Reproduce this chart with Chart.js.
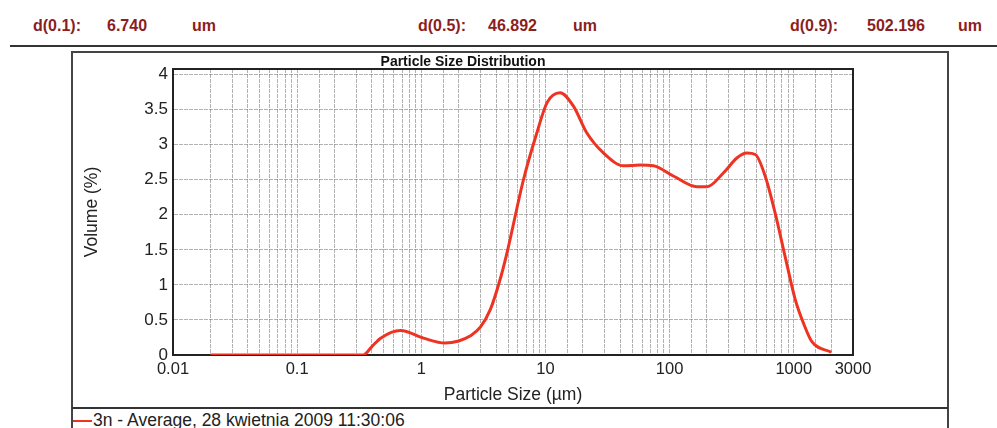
<!DOCTYPE html>
<html lang="pl">
<head>
    <meta charset="UTF-8">
    <title>Particle Size Distribution</title>
    <style>
        body {
            margin: 0;
            background: #fff;
            font-family: Arial, "Liberation Sans", sans-serif;
        }
        .page {
            position: relative;
            width: 997px;
            height: 428px;
            overflow: hidden;
        }
        .hd {
            position: absolute;
            top: 18px;
            font-size: 16px;
            line-height: 16px;
            font-weight: bold;
            color: #8b1e1e;
            white-space: nowrap;
        }
        .rule {
            position: absolute;
            left: 10px;
            top: 45px;
            width: 987px;
            height: 2px;
            background: #333;
        }
        .frame {
            position: absolute;
            left: 71px;
            top: 51px;
            width: 878px;
            height: 420px;
            box-sizing: border-box;
            border: 2px solid #444;
        }
        .sep {
            position: absolute;
            left: 72px;
            top: 407px;
            width: 876px;
            height: 2px;
            background: #333;
        }
        #chart {
            position: absolute;
            left: 73px;
            top: 53px;
        }
        .legend {
            position: absolute;
            left: 73px;
            top: 411px;
            font-size: 17.5px;
            line-height: 18px;
            color: #222;
            white-space: nowrap;
        }
        .legend i {
            display: inline-block;
            width: 19px;
            height: 2px;
            margin-right: 1px;
            vertical-align: 4px;
        }
    </style>
</head>
<body>
<div class="page">
    <span class="hd" style="left:33px">d(0.1):</span>
    <span class="hd" style="left:107px">6.740</span>
    <span class="hd" style="left:192px">um</span>
    <span class="hd" style="left:418px">d(0.5):</span>
    <span class="hd" style="left:488px">46.892</span>
    <span class="hd" style="left:573px">um</span>
    <span class="hd" style="left:790px">d(0.9):</span>
    <span class="hd" style="left:867px">502.196</span>
    <span class="hd" style="left:958px">um</span>
    <div class="rule"></div>
    <div class="frame"></div>
    <canvas id="chart" width="874" height="355"></canvas>
    <div class="sep"></div>
    <div class="legend" id="legend"></div>
</div>

<script src="https://cdn.jsdelivr.net/npm/chart.js@4"></script>
<script>
    // particle size (um) and volume (%)
    const sizes = [0.02, 0.1, 0.34, 0.4, 0.47, 0.68, 1.04, 1.56, 2.0, 2.47, 3.0, 3.6, 4.3, 4.89,
        6.65, 8.53, 10.3, 13.1, 16.8, 21.5, 29.4, 42.6, 58, 74, 108, 166, 200, 272, 348, 419,
        490, 589, 709, 853, 1028, 1200, 1400, 2000];
    const volume = [0, 0, 0, 0.12, 0.24, 0.35, 0.24, 0.17, 0.2, 0.27, 0.4, 0.65, 1.07, 1.45,
        2.5, 3.17, 3.6, 3.74, 3.55, 3.17, 2.88, 2.7, 2.71, 2.7, 2.55, 2.4, 2.4, 2.6, 2.81, 2.88,
        2.86, 2.55, 2.02, 1.4, 0.79, 0.45, 0.19, 0.04];
    const seriesName = '3n - Average, 28 kwietnia 2009 11:30:06';

    const xTickValues = [0.01, 0.1, 1, 10, 100, 1000, 3000];
    const xTickLabels = ['0.01', '0.1', '1', '10', '100', '1000', '3000'];
    const yTickValues = [0, 0.5, 1, 1.5, 2, 2.5, 3, 3.5, 4];
    const yTickLabels = ['0', '0.5', '1', '1.5', '2', '2.5', '3', '3.5', '4'];

    const lineColor = '#ee3322';
    const gridColor = 'rgba(115,115,115,0.55)';

    Chart.defaults.font.family = 'Arial, "Liberation Sans", sans-serif';
    Chart.defaults.color = '#222';

    // top and right edges of the plot box
    const plotFrame = {
        id: 'plotFrame',
        beforeDatasetsDraw(chart) {
            const a = chart.chartArea;
            const ctx = chart.ctx;
            ctx.save();
            ctx.strokeStyle = '#222';
            ctx.lineWidth = 2;
            ctx.strokeRect(a.left, a.top, a.right - a.left, a.bottom - a.top);
            ctx.restore();
        }
    };

    const chart = new Chart(document.getElementById('chart'), {
        type: 'line',
        data: {
            datasets: [{
                label: seriesName,
                data: sizes.map((s, i) => ({ x: s, y: volume[i] })),
                borderColor: lineColor,
                backgroundColor: lineColor,
                borderWidth: 3,
                pointRadius: 0,
                cubicInterpolationMode: 'monotone',
                fill: false
            }]
        },
        options: {
            responsive: false,
            animation: false,
            layout: { padding: { left: 0, right: 94, top: 0, bottom: 0 } },
            plugins: {
                legend: { display: false },
                tooltip: { enabled: false },
                title: {
                    display: true,
                    text: 'Particle Size Distribution',
                    color: '#111',
                    font: { size: 14, weight: 'bold', lineHeight: 1 },
                    padding: { top: 2, bottom: 0 }
                }
            },
            scales: {
                x: {
                    type: 'logarithmic',
                    min: 0.01,
                    max: 3000,
                    afterFit(scale) { scale.height = 53; },
                    border: { display: true, color: '#222', width: 2, dash: [4, 1] },
                    grid: { color: gridColor, lineWidth: 1, drawTicks: false },
                    ticks: {
                        autoSkip: false,
                        maxRotation: 0,
                        padding: 5,
                        font: { size: 16.5 },
                        callback(value) {
                            const i = xTickValues.findIndex(t => Math.abs(value - t) / t < 1e-6);
                            return i >= 0 ? xTickLabels[i] : '';
                        }
                    },
                    title: {
                        display: true,
                        text: 'Particle Size (µm)',
                        font: { size: 17.5 },
                        padding: { top: 0, bottom: 2.5 }
                    }
                },
                y: {
                    min: 0,
                    max: 4.08,
                    afterFit(scale) { scale.width = 100; },
                    afterBuildTicks(scale) {
                        scale.ticks = yTickValues.map(v => ({ value: v }));
                    },
                    border: { display: true, color: '#222', width: 2, dash: [4, 1] },
                    grid: { color: gridColor, lineWidth: 1, drawTicks: false },
                    ticks: {
                        padding: 5,
                        font: { size: 17 },
                        callback(value, index) {
                            return yTickLabels[index];
                        }
                    },
                    title: {
                        display: true,
                        text: 'Volume (%)',
                        font: { size: 17.5 },
                        padding: { top: 8.5, bottom: 0 }
                    }
                }
            }
        },
        plugins: [plotFrame]
    });

    // legend row under the plot
    const ds = chart.data.datasets[0];
    const lg = document.getElementById('legend');
    const sw = document.createElement('i');
    sw.style.background = ds.borderColor;
    lg.appendChild(sw);
    lg.appendChild(document.createTextNode(ds.label));
</script>
</body>
</html>
